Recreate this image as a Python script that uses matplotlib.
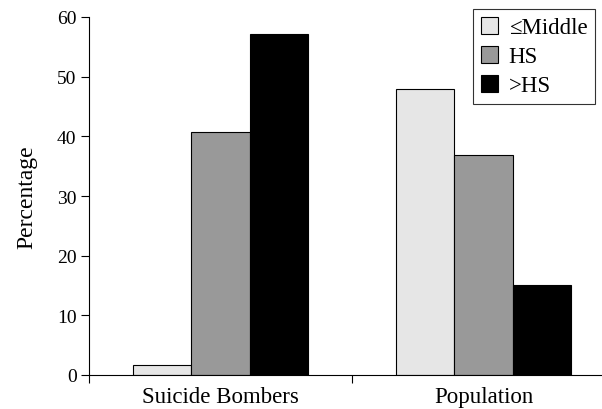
import numpy as np
import matplotlib
matplotlib.use("Agg")
import matplotlib.pyplot as plt

# data
groups = ["Suicide Bombers", "Population"]
series = ["\u2264Middle", "HS", ">HS"]
middle = [1.7, 47.9]
hs = [40.7, 36.9]
above_hs = [57.1, 15.1]
colors = ["#e6e6e6", "#999999", "#000000"]

plt.rcParams["font.family"] = ["Liberation Serif", "DejaVu Serif"]

fig = plt.figure(figsize=(6.02, 4.10), dpi=100)
ax = fig.add_axes([89 / 602, 1 - 376 / 410, (615 - 89) / 602, (376 - 18) / 410])

x = np.arange(len(groups))
w = 0.222
for i, (vals, lab) in enumerate(zip([middle, hs, above_hs], series)):
    ax.bar(x + (i - 1) * w, vals, width=w, color=colors[i], edgecolor="black",
           linewidth=0.8, label=lab)

ax.set_xlim(-0.5, 1.5)
ax.set_ylim(0, 60)
ax.set_yticks(range(0, 61, 10))
# group separators as major ticks, group names as minor labels
ax.set_xticks([-0.5, 0.5, 1.5])
ax.set_xticklabels([])
ax.set_xticks(x, minor=True)
ax.set_xticklabels(groups, minor=True)
ax.tick_params(axis="x", which="minor", length=0, pad=8, labelsize=16.5)
ax.tick_params(axis="x", which="major", length=6, width=0.8, direction="out")
ax.tick_params(axis="y", length=6, width=0.8, labelsize=14, pad=3)
for s in ["top", "right"]:
    ax.spines[s].set_visible(False)
for s in ["left", "bottom"]:
    ax.spines[s].set_linewidth(0.8)

ax.set_ylabel("Percentage", fontsize=17, labelpad=14)

leg = ax.legend(loc="upper left", bbox_to_anchor=(473 / 602, 1 - 10 / 410),
                bbox_transform=fig.transFigure, fontsize=16.5, frameon=True,
                fancybox=False, edgecolor="black", handlelength=0.75,
                handleheight=0.75, handletextpad=0.45, borderpad=0.35,
                labelspacing=0.33, borderaxespad=0)
leg.get_frame().set_linewidth(0.8)

fig.savefig("out.png", dpi=100)
